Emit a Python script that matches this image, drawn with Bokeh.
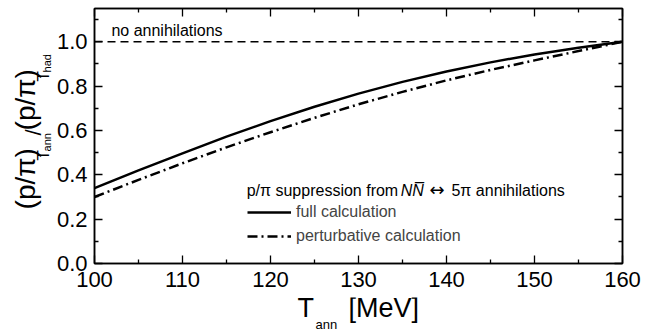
import math
from bokeh.plotting import figure
from bokeh.layouts import row, column
from bokeh.models import (LinearAxis, FixedTicker, NumeralTickFormatter, Range1d,
                          Label, Legend, LegendItem, CustomJSTickFormatter)
from bokeh.embed import file_html
from bokeh.resources import INLINE

# ---- data ----
T_ann = [100, 105, 110, 115, 120, 125, 130, 135, 140, 145, 150, 155, 160]
full_calc = [0.34, 0.42, 0.497, 0.572, 0.642, 0.707, 0.766, 0.819, 0.866, 0.907, 0.943, 0.973, 1.0]
pert_calc = [0.30, 0.377, 0.452, 0.524, 0.592, 0.657, 0.718, 0.774, 0.826, 0.873, 0.916, 0.958, 1.0]
ref_x = [100, 160]
ref_y = [1.0, 1.0]
x_ticks = [100, 110, 120, 130, 140, 150, 160]
x_minor = [105, 115, 125, 135, 145, 155]
y_ticks = [0.0, 0.2, 0.4, 0.6, 0.8, 1.0]
y_minor = [0.1, 0.3, 0.5, 0.7, 0.9, 1.1]

FONT = "Liberation Sans"
TOTAL_W, TOTAL_H = 664, 331
YT_W = 53          # strip for the rotated y title
MAIN_W, MAIN_H = TOTAL_W - YT_W, 297
XT_H = TOTAL_H - MAIN_H
L, R, T, B = 38, 42, 8, 34
X0, X1, Y0, Y1 = 100, 160, 0.0, 1.15
SHIFT = 0.32   # baseline correction (em) for Label text placement

def bare(width, height, xr, yr):
    f = figure(width=width, height=height, output_backend="svg", toolbar_location=None,
               x_range=xr, y_range=yr, min_border=0, min_border_left=0,
               min_border_right=0, min_border_top=0, min_border_bottom=0,
               x_axis_location=None, y_axis_location=None)
    f.grid.visible = False
    f.outline_line_color = None
    f.background_fill_color = "white"
    f.border_fill_color = "white"
    return f

# ---------------- main plot ----------------
p = figure(width=MAIN_W, height=MAIN_H, output_backend="svg", toolbar_location=None,
           x_range=Range1d(X0, X1), y_range=Range1d(Y0, Y1),
           min_border_left=L, min_border_right=R, min_border_top=T, min_border_bottom=B,
           x_axis_location=None, y_axis_location=None)
p.grid.visible = False
p.outline_line_color = "black"
p.outline_line_width = 1.5
p.background_fill_color = "white"
p.border_fill_color = "white"

def style_axis(ax, show_labels):
    ax.axis_line_width = 1.5
    ax.axis_line_color = "black"
    ax.major_tick_in = 8
    ax.major_tick_out = 0
    ax.minor_tick_in = 4
    ax.minor_tick_out = 0
    ax.major_tick_line_width = 1.3
    ax.minor_tick_line_width = 1.3
    ax.major_label_text_font = FONT
    ax.major_label_text_font_size = "22px"
    ax.major_label_text_color = "black"
    if not show_labels:
        ax.formatter = CustomJSTickFormatter(code="return ''")
        ax.major_label_standoff = 0

xt = FixedTicker(ticks=x_ticks, minor_ticks=x_minor)
yt = FixedTicker(ticks=y_ticks, minor_ticks=y_minor)

xb = LinearAxis(ticker=xt); style_axis(xb, True); xb.major_label_standoff = 8
xa = LinearAxis(ticker=xt); style_axis(xa, False)
yl = LinearAxis(ticker=yt, formatter=NumeralTickFormatter(format="0.0")); style_axis(yl, True)
yl.major_label_standoff = 7
yr = LinearAxis(ticker=yt); style_axis(yr, False)
p.add_layout(xb, "below")
p.add_layout(xa, "above")
p.add_layout(yl, "left")
p.add_layout(yr, "right")

p.line(ref_x, ref_y, line_color="black", line_width=1.3, line_dash="8 5")
r_full = p.line(T_ann, full_calc, line_color="black", line_width=2.5)
r_pert = p.line(T_ann, pert_calc, line_color="black", line_width=2.5, line_dash="10 4 2 4")

legend = Legend(items=[LegendItem(label="full calculation", renderers=[r_full]),
                       LegendItem(label="perturbative calculation", renderers=[r_pert])],
                location=(153, 15), glyph_width=44, glyph_height=24, label_height=24,
                label_standoff=5, spacing=0, padding=0, margin=0,
                label_text_font=FONT, label_text_font_size="16px",
                border_line_color=None, background_fill_alpha=0)
p.add_layout(legend, "center")

FW, FH = MAIN_W - L - R, MAIN_H - T - B

def px_x(px):   # page px -> data x of the main plot
    return X0 + (px - YT_W - L) * (X1 - X0) / FW

def px_y(py):
    return Y0 + (T + FH - py) * (Y1 - Y0) / FH

def lab(fig, text, x, y, size, style="normal", font=FONT, angle=0.0):
    fig.add_layout(Label(x=x, y=y, text=text, text_font=font,
                         text_font_size=f"{size}px", text_font_style=style,
                         text_color="black", text_align="left",
                         text_baseline="alphabetic", angle=angle))

def hlab(text, x, base, size, **kw):   # horizontal text in main plot, page px
    lab(p, text, px_x(x), px_y(base - SHIFT * size), size, **kw)

hlab("no annihilations", 108, 35, 16)
hlab("p/\u03c0 suppression from ", 244, 195, 16)
hlab("NN\u0305", 399, 195, 16, style="italic")
hlab("\u2194", 428, 195, 18, font="DejaVu Sans")
hlab("5\u03c0 annihilations", 450, 195, 16)

# ---------------- y title strip ----------------
yfig = bare(YT_W, MAIN_H, Range1d(0, YT_W), Range1d(MAIN_H, 0))
a = math.pi / 2
def vlab(text, base_x, start_y, size):
    lab(yfig, text, base_x - SHIFT * size, start_y, size, angle=a)
vlab("(p/\u03c0)", 33.5, 234, 28)
vlab("T", 48.5, 177, 17)
vlab("ann", 50.5, 166.5, 11)
vlab("/", 40, 148, 22)
vlab("(p/\u03c0)", 33.5, 142, 28)
vlab("T", 48.5, 85, 17)
vlab("had", 50.5, 74.5, 11)

# ---------------- x title strip ----------------
xfig = bare(TOTAL_W, XT_H, Range1d(0, TOTAL_W), Range1d(XT_H, 0))
def xlab(text, x, base, size):
    lab(xfig, text, x, base - SHIFT * size - MAIN_H, size)
xlab("T", 297, 316.5, 27)
xlab("ann", 315, 328.5, 13)
xlab("[MeV]", 348, 316.5, 27)

layout = column(row(yfig, p, spacing=0), xfig, spacing=0)
open("out.html", "w").write(file_html(layout, INLINE))
